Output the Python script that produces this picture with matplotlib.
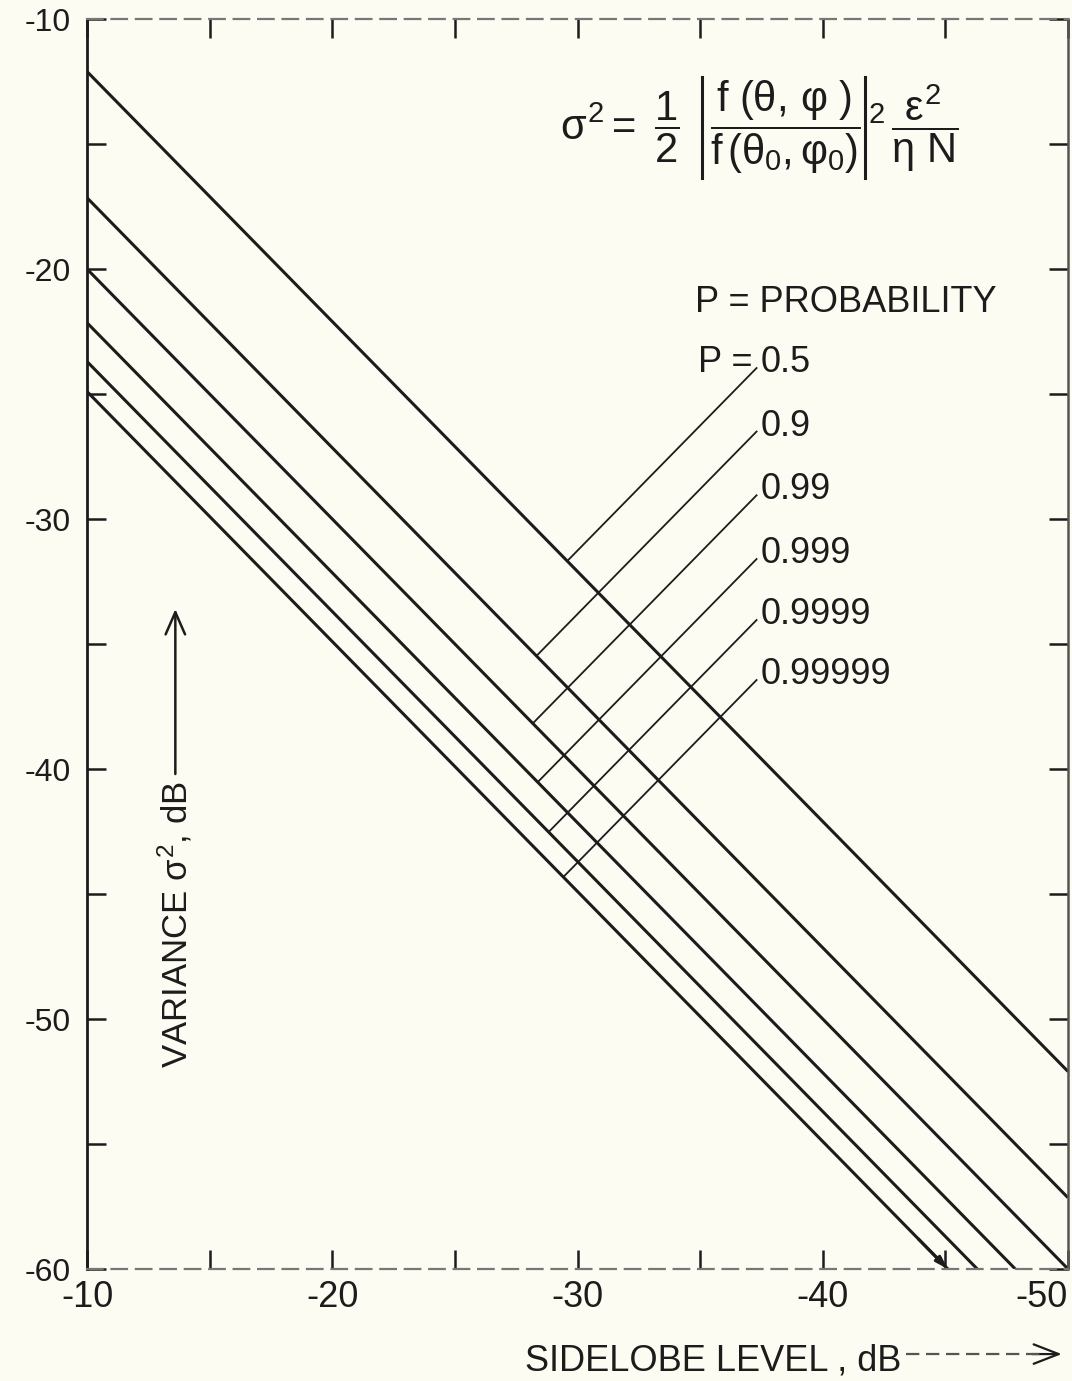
import numpy as np
import matplotlib.pyplot as plt
import matplotlib.ticker as mticker
from matplotlib.lines import Line2D
from matplotlib.patches import FancyArrowPatch

# sidelobe level range (dB) and the variance offset of each probability line
sll_range = [-10, -50]
var_range = [-60, -10]
probs = ['0.5', '0.9', '0.99', '0.999', '0.9999', '0.99999']
offsets = [-2.1, -7.15, -10.0, -12.15, -13.7, -14.9]   # variance = SLL + offset

# label anchor for the leader lines (start of each leader)
label_x = -37.3
label_y = [-23.96, -26.5, -29.05, -31.6, -34.04, -36.44]

# formula pieces (the |...| bars are drawn as thin lines between them)
formula_left = r'$\sigma^2 = \ \dfrac{1}{2}$'
formula_mid = r'$\dfrac{f\ (\theta,\,\varphi\ )}{f\,(\theta_0,\varphi_0)}$'
formula_right = r'${}^2\,\dfrac{\varepsilon^2}{\eta\ N}$'

plt.rcParams['font.family'] = ['Liberation Sans', 'DejaVu Sans']
plt.rcParams['mathtext.fontset'] = 'custom'
plt.rcParams['mathtext.rm'] = 'Liberation Sans'
plt.rcParams['mathtext.it'] = 'Liberation Sans'
plt.rcParams['mathtext.bf'] = 'Liberation Sans:bold'
plt.rcParams['mathtext.fallback'] = 'stixsans'

ink = '#1c1c1c'
bg = '#fdfcf3'

fig = plt.figure(figsize=(10.72, 13.81), dpi=100, facecolor=bg)
ax = fig.add_axes([0.0812, 0.0811, 0.9151, 0.9051])
ax.set_facecolor(bg)

# main probability lines
for i, (p, off) in enumerate(zip(probs, offsets)):
    x0, x1 = sll_range
    if i == len(probs) - 1:
        x1 = var_range[0] - off
    xs = np.array([x0, x1])
    ax.plot(xs, xs + off, color=ink, lw=2.2, solid_capstyle='butt')
    if i == len(probs) - 1:
        ax.annotate('', xy=(x1, x1 + off), xytext=(x1 + 1.2, x1 + off + 1.2),
                    arrowprops=dict(arrowstyle='-|>,head_length=0.7,head_width=0.22',
                                    color=ink, lw=2.2, shrinkA=0, shrinkB=0))

# leader lines, perpendicular to the data lines
for p, off, ly in zip(probs, offsets, label_y):
    s = label_x + ly
    xe = (s - off) / 2.0
    ax.plot([label_x, xe], [ly, xe + off], color=ink, lw=1.3)
    ax.annotate(p, xy=(label_x, ly), xytext=(3, -3), textcoords='offset points',
                ha='left', va='baseline', fontsize=26, color=ink)

ax.annotate('P =', xy=(label_x, label_y[0]), xytext=(-3, -3), textcoords='offset points',
            ha='right', va='baseline', fontsize=26, color=ink)
ax.text(0.62, 0.7656, 'P = PROBABILITY', transform=ax.transAxes,
        ha='left', va='baseline', fontsize=26, color=ink)

# axes
ax.set_xlim(sll_range)
ax.set_ylim(var_range)
ax.xaxis.set_major_locator(mticker.MultipleLocator(5))
ax.yaxis.set_major_locator(mticker.MultipleLocator(5))
fmt = mticker.FuncFormatter(lambda v, p: '%d' % round(v) if round(v) % 10 == 0 else '')
ax.xaxis.set_major_formatter(fmt)
ax.yaxis.set_major_formatter(fmt)
ax.tick_params(direction='in', length=14, width=1.8, top=True, right=True, color=ink,
               labelcolor=ink)
ax.tick_params(axis='x', labelsize=26, pad=8)
ax.tick_params(axis='y', labelsize=23, pad=12)

# formula, laid out piece by piece
fig.canvas.draw()
renderer = fig.canvas.get_renderer()
to_ax = ax.transAxes.inverted()
fy = 0.903
fx = (560 - 87) / 981.0
t1 = ax.text(fx, fy, formula_left, transform=ax.transAxes, ha='left', va='baseline',
             fontsize=30, color=ink)
b1 = t1.get_window_extent(renderer)
t2 = ax.text(0, fy, formula_mid, transform=ax.transAxes, ha='left', va='baseline',
             fontsize=30, color=ink)
t2.set_x(to_ax.transform((b1.x1 + 30, 0))[0])
b2 = t2.get_window_extent(renderer)
for xb in [b2.x0 - 8, b2.x1 + 5]:
    ax.add_line(Line2D([xb, xb], [b2.y0 - 2, b2.y1 + 2], transform=None,
                       color=ink, lw=2.2))
t3 = ax.text(0, fy, formula_right, transform=ax.transAxes, ha='left', va='baseline',
             fontsize=30, color=ink)
t3.set_x(to_ax.transform((b2.x1 + 8, 0))[0])

fig.canvas.draw()
for lab in ax.get_xticklabels():
    if lab.get_text() == '-50':
        lab.set_ha('right')

ax.spines['left'].set_color(ink)
ax.spines['left'].set_linewidth(2.0)
ax.spines['right'].set_color('#555555')
ax.spines['right'].set_linewidth(1.8)
for side in ['top', 'bottom']:
    ax.spines[side].set_color('#777777')
    ax.spines[side].set_linewidth(1.6)
    ax.spines[side].set_linestyle((0, (7, 4)))

# y label with upward arrow, inside the axes
ax.text(-13.6, -40.5, r'VARIANCE $\sigma^2$, dB', rotation=90, ha='center', va='top',
        fontsize=25, color=ink)
ax.annotate('', xy=(-13.6, -33.6), xytext=(-13.6, -40.2),
            arrowprops=dict(arrowstyle='->,head_length=0.8,head_width=0.35',
                            mutation_scale=20, color=ink, lw=1.8, shrinkA=0, shrinkB=0))

# x label with dashed arrow, below the axes
fig.text(0.49, 0.0075, 'SIDELOBE LEVEL , dB', ha='left', va='baseline', fontsize=26, color=ink)
fig.add_artist(Line2D([0.845, 0.975], [0.0195, 0.0195], transform=fig.transFigure,
                      color='#555555', lw=1.6, linestyle=(0, (6, 3))))
fig.add_artist(FancyArrowPatch(
    (0.96, 0.0195), (0.993, 0.0195), transform=fig.transFigure,
    arrowstyle='->,head_length=0.9,head_width=0.35', mutation_scale=20,
    color=ink, lw=1.6))

fig.savefig('out.png', dpi=100, facecolor=bg)
